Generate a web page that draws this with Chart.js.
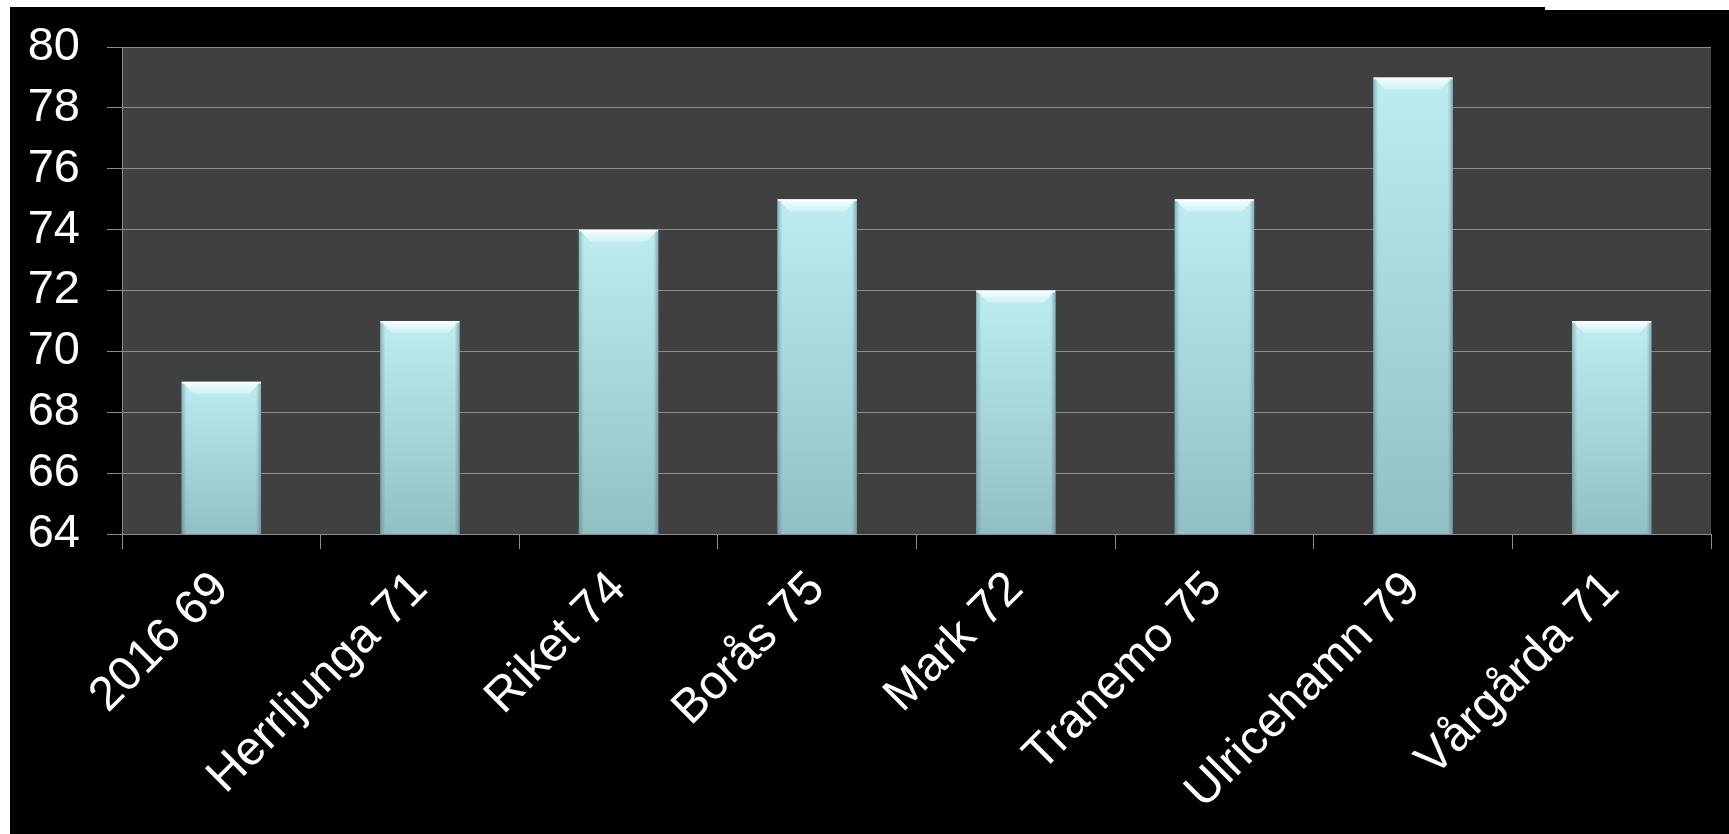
<!DOCTYPE html>
<html>
<head>
<meta charset="utf-8">
<script src="https://cdn.jsdelivr.net/npm/chart.js@4"></script>
<style>
  body { margin: 0; background: #fff; width: 1729px; height: 834px; overflow: hidden; }
  #frame { position: absolute; left: 10px; top: 7px; width: 1719px; height: 827px; background: #000; }
  #notch { position: absolute; left: 1545px; top: 7px; width: 184px; height: 3px; background: #fff; }
  canvas { display: block; }
</style>
</head>
<body>
<div id="frame"><canvas id="myChart" width="1719" height="827"></canvas></div>
<div id="notch"></div>
<script>
// categories and values
const places = ["2016 69", "Herrljunga 71", "Riket 74", "Borås 75", "Mark 72", "Tranemo 75", "Ulricehamn 79", "Vårgårda 71"];
const scores = [69, 71, 74, 75, 72, 75, 79, 71];
const yMin = 64;
const yMax = 80;
const yStep = 2;

const fontFamily = "'Liberation Sans', Arial, sans-serif";

// dark grey plot area behind the bars
const plotBackground = {
    id: 'plotBackground',
    beforeDraw: chart => {
        const { ctx, chartArea } = chart;
        ctx.save();
        ctx.fillStyle = '#404040';
        ctx.fillRect(chartArea.left, chartArea.top, chartArea.right - chartArea.left, chartArea.bottom - chartArea.top);
        ctx.restore();
    }
};

// bevel highlight on top of each bar and soft shading on the sides
const barBevel = {
    id: 'barBevel',
    afterDatasetsDraw: chart => {
        const ctx = chart.ctx;
        const area = chart.chartArea;
        chart.getDatasetMeta(0).data.forEach(bar => {
            const left = bar.x - bar.width / 2;
            const right = bar.x + bar.width / 2;
            const top = bar.y;
            const bottom = Math.min(bar.base, area.bottom);
            const b = 12;
            ctx.save();
            // top face
            const g = ctx.createLinearGradient(0, top, 0, top + b);
            g.addColorStop(0, 'rgba(255,255,255,0.95)');
            g.addColorStop(1, 'rgba(225,248,250,0.55)');
            ctx.fillStyle = g;
            ctx.beginPath();
            ctx.moveTo(left, top);
            ctx.lineTo(right, top);
            ctx.lineTo(right - b, top + b);
            ctx.lineTo(left + b, top + b);
            ctx.closePath();
            ctx.fill();
            // left edge
            const gl = ctx.createLinearGradient(left, 0, left + 5, 0);
            gl.addColorStop(0, 'rgba(60,100,105,0.4)');
            gl.addColorStop(1, 'rgba(60,100,105,0)');
            ctx.fillStyle = gl;
            ctx.fillRect(left, top + 2, 5, bottom - top - 2);
            // right edge
            const gr = ctx.createLinearGradient(right - 5, 0, right, 0);
            gr.addColorStop(0, 'rgba(60,100,105,0)');
            gr.addColorStop(1, 'rgba(60,100,105,0.45)');
            ctx.fillStyle = gr;
            ctx.fillRect(right - 5, top + 2, 5, bottom - top - 2);
            ctx.restore();
        });
    }
};

const barFill = context => {
    const chart = context.chart;
    const yScale = chart.scales.y;
    if (!chart.chartArea || !yScale || context.raw === undefined) return '#a8d8dc';
    const top = yScale.getPixelForValue(context.raw);
    const bottom = yScale.getPixelForValue(yMin);
    const g = chart.ctx.createLinearGradient(0, top, 0, bottom);
    g.addColorStop(0, '#bdedf1');
    g.addColorStop(1, '#92bfc3');
    return g;
};

const ctx = document.querySelector('#myChart').getContext('2d');

new Chart(ctx, {
    type: 'bar',
    data: {
        labels: places,
        datasets: [
            {
                data: scores,
                backgroundColor: barFill,
                borderWidth: 0,
                barPercentage: 0.5,
                categoryPercentage: 0.8
            }
        ]
    },
    options: {
        responsive: false,
        animation: false,
        devicePixelRatio: 1,
        layout: { padding: { top: 40, right: 18, left: 0, bottom: 0 } },
        plugins: {
            legend: { display: false },
            tooltip: { enabled: false }
        },
        scales: {
            x: {
                offset: true,
                afterFit: s => { s.height = 300; },
                grid: {
                    offset: true,
                    drawOnChartArea: false,
                    drawTicks: true,
                    tickLength: 15,
                    color: '#8c8c8c',
                    lineWidth: 1
                },
                border: { display: true, color: '#8c8c8c', width: 1 },
                ticks: {
                    color: '#ffffff',
                    font: { family: fontFamily, size: 48 },
                    minRotation: 45,
                    maxRotation: 45,
                    autoSkip: false,
                    padding: 12
                }
            },
            y: {
                min: yMin,
                max: yMax,
                afterFit: s => {
                    s.width = 112;
                    s.paddingTop = 0;
                    s.paddingBottom = 0;
                },
                grid: {
                    color: '#8c8c8c',
                    lineWidth: 1,
                    tickLength: 15,
                    drawTicks: true
                },
                border: { display: true, color: '#8c8c8c', width: 1 },
                ticks: {
                    stepSize: yStep,
                    autoSkip: false,
                    color: '#ffffff',
                    font: { family: fontFamily, size: 47 },
                    padding: 27
                }
            }
        }
    },
    plugins: [plotBackground, barBevel]
});
</script>
</body>
</html>
